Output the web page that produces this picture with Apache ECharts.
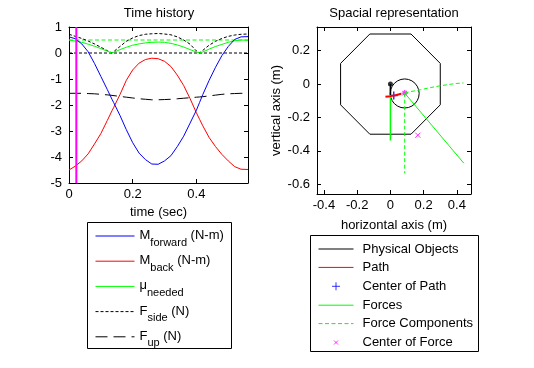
<!DOCTYPE html>
<html>
<head>
<meta charset="utf-8">
<script src="https://cdn.jsdelivr.net/npm/echarts@6/dist/echarts.min.js"></script>
<style>html,body{margin:0;padding:0;background:#fff}#c{width:534px;height:368px}</style>
</head>
<body>
<div id="c"></div>
<script>
// ---------- Time history data ----------
var time      = [0, 0.02, 0.04, 0.06, 0.08, 0.10, 0.12, 0.135, 0.14, 0.16, 0.18, 0.20, 0.22, 0.24, 0.26, 0.28, 0.30, 0.32, 0.34, 0.36, 0.38, 0.40, 0.41, 0.42, 0.44, 0.46, 0.48, 0.50, 0.52, 0.54, 0.562];
var mForward  = [0.62, 0.55, 0.35, 0.05, -0.40, -0.90, -1.40, -1.78, -1.90, -2.40, -2.95, -3.45, -3.85, -4.10, -4.27, -4.28, -4.15, -3.95, -3.60, -3.20, -2.70, -2.20, -1.90, -1.60, -1.05, -0.55, -0.10, 0.25, 0.52, 0.62, 0.63];
var mBack     = [-4.50, -4.35, -4.15, -3.88, -3.50, -3.10, -2.60, -2.22, -2.10, -1.60, -1.05, -0.65, -0.39, -0.25, -0.20, -0.22, -0.32, -0.52, -0.85, -1.25, -1.75, -2.30, -2.55, -2.80, -3.25, -3.60, -3.90, -4.15, -4.37, -4.47, -4.48];
var muNeeded  = [0.50, 0.46, 0.41, 0.34, 0.26, 0.17, 0.07, 0.00, 0.03, 0.13, 0.22, 0.30, 0.35, 0.39, 0.41, 0.42, 0.41, 0.37, 0.31, 0.23, 0.13, 0.04, 0.00, 0.04, 0.15, 0.25, 0.33, 0.41, 0.47, 0.50, 0.49];
var fSide     = [0.72, 0.64, 0.56, 0.46, 0.35, 0.22, 0.09, 0.00, 0.04, 0.25, 0.45, 0.58, 0.67, 0.72, 0.74, 0.75, 0.73, 0.70, 0.62, 0.50, 0.34, 0.08, 0.00, 0.10, 0.30, 0.45, 0.56, 0.64, 0.69, 0.72, 0.73];
var fUp       = [-1.55, -1.55, -1.55, -1.56, -1.57, -1.59, -1.61, -1.63, -1.64, -1.67, -1.70, -1.73, -1.76, -1.78, -1.80, -1.80, -1.79, -1.78, -1.76, -1.74, -1.72, -1.70, -1.69, -1.68, -1.65, -1.62, -1.59, -1.57, -1.56, -1.55, -1.55];
var refTimes  = [0, 0.562];
var zeroRef   = [0, 0];
var muLimit   = [0.5, 0.5];
var markerTime = 0.023;
var markerSpan = [-5, 1];
var timeTicks = [0, 0.2, 0.4];
var histTicks = [-5, -4, -3, -2, -1, 0, 1];
var histLegendNames = ['Mforward', 'Mback', 'mu', 'Fside', 'Fup'];
var histLegendLabels = {
  Mforward: '{m|M}{s|forward}{m| (N-m)}',
  Mback: '{m|M}{s|back}{m| (N-m)}',
  mu: '{m|\u03bc}{s|needed}',
  Fside: '{m|F}{s|side}{m| (N)}',
  Fup: '{m|F}{s|up}{m| (N)}'
};

// ---------- Spacial representation data ----------
var octX = [-0.124, 0.124, 0.3, 0.3, 0.124, -0.124, -0.3, -0.3, -0.124];
var octY = [0.3, 0.3, 0.124, -0.124, -0.3, -0.3, -0.124, 0.124, 0.3];
var circX = [0.173, 0.170, 0.161, 0.1475, 0.1295, 0.1085, 0.086, 0.0635, 0.0425, 0.0245, 0.0107, 0.002, -0.001, 0.002, 0.0107, 0.0245, 0.0425, 0.0635, 0.086, 0.1085, 0.1295, 0.1475, 0.161, 0.170, 0.173];
var circY = [-0.056, -0.0335, -0.0125, 0.0055, 0.0193, 0.028, 0.031, 0.028, 0.0193, 0.0055, -0.0125, -0.0335, -0.056, -0.0785, -0.0995, -0.1175, -0.1313, -0.140, -0.143, -0.140, -0.1313, -0.1175, -0.0995, -0.0785, -0.056];
var legX = [0, 0];
var legY = [0, -0.065];
var pathX = [-0.03, 0.0, 0.03, 0.065];
var pathY = [-0.075, -0.072, -0.067, -0.058];
var pathCenter = [0.02, -0.068];
var originPt = [0, 0];
var forceVertX = [0, 0];
var forceVertY = [-0.02, -0.338];
var forceDiagX = [0.086, 0.442];
var forceDiagY = [-0.054, -0.474];
var compVertX = [0.086, 0.086];
var compVertY = [-0.054, -0.534];
var compCurveX = [0.086, 0.12, 0.18, 0.24, 0.30, 0.36, 0.40, 0.44];
var compCurveY = [-0.054, -0.045, -0.034, -0.021, -0.010, -0.001, 0.004, 0.007];
var forcePoint = [0.086, -0.054];
var forceCenter = [0.165, -0.306];
var spaceXTicks = [-0.4, -0.2, 0, 0.2, 0.4];
var spaceYTicks = [-0.6, -0.4, -0.2, 0, 0.2];
var spaceLegendNames = ['Physical Objects', 'Path', 'Center of Path', 'Forces', 'Force Components', 'Center of Force'];
var spaceLegendMarkers = ['Center of Path', 'Center of Force'];

function zip(xs, ys) { return xs.map(function (x, i) { return [x, ys[i]]; }); }
function constPts(ts, vs) { return ts.map(function (t, i) { return [t, vs[i]]; }); }

var FONT = "'Liberation Sans', Arial, sans-serif";
var FS = 13;
var PLUS = 'path://M0,0M14,14M7,3L7,11M3,7L11,7';
var CROSS = 'path://M0,0M14,14M5,5L9,9M9,5L5,9';
var STAR = 'path://M0,0M10,10M5,1L5,9M1,5L9,5M2.2,2.2L7.8,7.8M7.8,2.2L2.2,7.8';

function xAx(grid, min, max, ticks, pos, labels, name, gap, margin) {
  return {
    type: 'value', gridIndex: grid, min: min, max: max, position: pos,
    splitLine: { show: false },
    axisLine: { show: true, onZero: false, lineStyle: { color: '#000', width: 1 } },
    axisTick: { show: true, inside: true, length: 4, customValues: ticks, lineStyle: { color: '#000' } },
    axisLabel: { show: labels, customValues: ticks, margin: margin || 5, color: '#000', fontSize: FS, fontFamily: FONT },
    name: labels ? name : '', nameLocation: 'middle', nameGap: gap,
    nameTextStyle: { color: '#000', fontSize: FS, fontFamily: FONT }
  };
}

var lineBase = { type: 'line', symbol: 'none', showSymbol: false, animation: false, silent: true };
function ln(o) { return Object.assign({}, lineBase, o); }

var series = [
  ln({ name: 'zeroRef', xAxisIndex: 0, yAxisIndex: 0, data: constPts(refTimes, zeroRef), lineStyle: { color: '#000', width: 1, type: [3, 2] } }),
  ln({ name: 'muLimit', xAxisIndex: 0, yAxisIndex: 0, data: constPts(refTimes, muLimit), lineStyle: { color: '#00ff00', width: 1, type: [4, 2.5] } }),
  ln({ name: 'Fup', xAxisIndex: 0, yAxisIndex: 0, data: zip(time, fUp), lineStyle: { color: '#000', width: 1, type: [12, 6] } }),
  ln({ name: 'Fside', xAxisIndex: 0, yAxisIndex: 0, data: zip(time, fSide), lineStyle: { color: '#000', width: 1, type: [3, 2] } }),
  ln({ name: 'mu', xAxisIndex: 0, yAxisIndex: 0, data: zip(time, muNeeded), lineStyle: { color: '#00ff00', width: 1 } }),
  ln({ name: 'Mback', xAxisIndex: 0, yAxisIndex: 0, data: zip(time, mBack), lineStyle: { color: '#ff0000', width: 1 } }),
  ln({ name: 'Mforward', xAxisIndex: 0, yAxisIndex: 0, data: zip(time, mForward), lineStyle: { color: '#0000ff', width: 1 } }),
  ln({ name: 'timeMarker', xAxisIndex: 0, yAxisIndex: 0, data: [[markerTime, markerSpan[0]], [markerTime, markerSpan[1]]], lineStyle: { color: '#ff00ff', width: 2 } }),

  ln({ name: 'Physical Objects', xAxisIndex: 2, yAxisIndex: 2, data: zip(octX, octY), lineStyle: { color: '#000', width: 1 } }),
  ln({ name: 'Physical Objects', xAxisIndex: 2, yAxisIndex: 2, data: zip(circX, circY), lineStyle: { color: '#000', width: 1 } }),
  ln({ name: 'Forces', xAxisIndex: 2, yAxisIndex: 2, data: zip(forceVertX, forceVertY), lineStyle: { color: '#00ff00', width: 1.5 } }),
  ln({ name: 'Forces', xAxisIndex: 2, yAxisIndex: 2, data: zip(forceDiagX, forceDiagY), lineStyle: { color: '#00ff00', width: 1 } }),
  ln({ name: 'Force Components', xAxisIndex: 2, yAxisIndex: 2, data: zip(compVertX, compVertY), lineStyle: { color: '#00ff00', width: 1, type: [4, 2.5] } }),
  ln({ name: 'Force Components', xAxisIndex: 2, yAxisIndex: 2, data: zip(compCurveX, compCurveY), lineStyle: { color: '#00ff00', width: 1, type: [4, 2.5] } }),
  ln({ name: 'Physical Objects', xAxisIndex: 2, yAxisIndex: 2, data: zip(legX, legY), lineStyle: { color: '#000', width: 1.5 } }),
  ln({ name: 'Path', xAxisIndex: 2, yAxisIndex: 2, data: zip(pathX, pathY), lineStyle: { color: '#ff0000', width: 2 } }),
  { type: 'scatter', name: 'origin', xAxisIndex: 2, yAxisIndex: 2, animation: false, silent: true, symbol: 'circle', symbolSize: 5, data: [originPt], itemStyle: { color: '#000' } },
  { type: 'scatter', name: 'Center of Path', xAxisIndex: 2, yAxisIndex: 2, animation: false, silent: true, symbol: PLUS, symbolSize: 14, data: [pathCenter], itemStyle: { color: '#0000ff', borderColor: '#0000ff', borderWidth: 1.5 } },
  { type: 'scatter', name: 'forcePoint', xAxisIndex: 2, yAxisIndex: 2, animation: false, silent: true, symbol: STAR, symbolSize: 8, data: [forcePoint], itemStyle: { color: '#ff00ff', borderColor: '#ff00ff', borderWidth: 1.2 } },
  { type: 'scatter', name: 'Center of Force', xAxisIndex: 2, yAxisIndex: 2, animation: false, silent: true, symbol: CROSS, symbolSize: 18, data: [forceCenter], itemStyle: { color: '#ff00ff', borderColor: '#ff00ff', borderWidth: 1 } }
];

function legendData(names, markers) {
  return names.map(function (n) {
    return markers.indexOf(n) >= 0 ? { name: n } : { name: n, itemStyle: { opacity: 0 } };
  });
}

var titleStyle = { fontSize: FS, fontWeight: 'normal', color: '#000', fontFamily: FONT };

var option = {
  animation: false,
  backgroundColor: '#fff',
  textStyle: { fontFamily: FONT },
  title: [
    { text: 'Time history', left: 159, top: 7, padding: 0, textAlign: 'center', textStyle: titleStyle },
    { text: 'Spacial representation', left: 394, top: 7, padding: 0, textAlign: 'center', textStyle: titleStyle }
  ],
  grid: [
    { left: 69, top: 27, width: 179, height: 156, containLabel: false },
    { left: 317, top: 27, width: 154, height: 167, containLabel: false }
  ],
  xAxis: [
    xAx(0, 0, 0.562, timeTicks, 'bottom', true, 'time (sec)', 23, 5),
    xAx(0, 0, 0.562, timeTicks, 'top', false, '', 0),
    xAx(1, -0.442, 0.485, spaceXTicks, 'bottom', true, 'horizontal axis (m)', 25, 5),
    xAx(1, -0.442, 0.485, spaceXTicks, 'top', false, '', 0)
  ],
  yAxis: [
    xAx(0, -5, 1, histTicks, 'left', true, '', 0, 7),
    xAx(0, -5, 1, histTicks, 'right', false, '', 0),
    xAx(1, -0.658, 0.342, spaceYTicks, 'left', true, 'vertical axis (m)', 34, 7),
    xAx(1, -0.658, 0.342, spaceYTicks, 'right', false, '', 0)
  ],
  legend: [
    {
      orient: 'vertical', left: 95, top: 228, padding: 0,
      itemWidth: 39, itemHeight: 20, itemGap: 5.2, selectedMode: false,
      data: legendData(histLegendNames, []),
      formatter: function (n) { return histLegendLabels[n]; },
      lineStyle: { width: 1 },
      textStyle: {
        color: '#000', fontFamily: FONT,
        rich: {
          m: { fontSize: FS, lineHeight: 14, verticalAlign: 'top', color: '#000', fontFamily: FONT },
          s: { fontSize: 11, lineHeight: 12, padding: [8, 0, 0, 0], verticalAlign: 'top', color: '#000', fontFamily: FONT }
        }
      }
    },
    {
      orient: 'vertical', left: 318, top: 242, padding: 0,
      itemWidth: 35, itemHeight: 14, itemGap: 4.4, selectedMode: false,
      data: legendData(spaceLegendNames, spaceLegendMarkers),
      lineStyle: { width: 1 },
      itemStyle: { borderWidth: 1 },
      textStyle: { color: '#000', fontSize: FS, lineHeight: 14, fontFamily: FONT, padding: [0, 0, 0, 4] }
    }
  ],
  graphic: [
    { type: 'rect', shape: { x: 87.5, y: 222.5, width: 144, height: 126 }, style: { fill: 'none', stroke: '#000', lineWidth: 1 }, silent: true },
    { type: 'rect', shape: { x: 310.5, y: 235.5, width: 168, height: 116 }, style: { fill: 'none', stroke: '#000', lineWidth: 1 }, silent: true }
  ],
  series: series
};

var chart = echarts.init(document.getElementById('c'), null, { renderer: 'canvas' });
chart.setOption(option);
</script>
</body>
</html>
